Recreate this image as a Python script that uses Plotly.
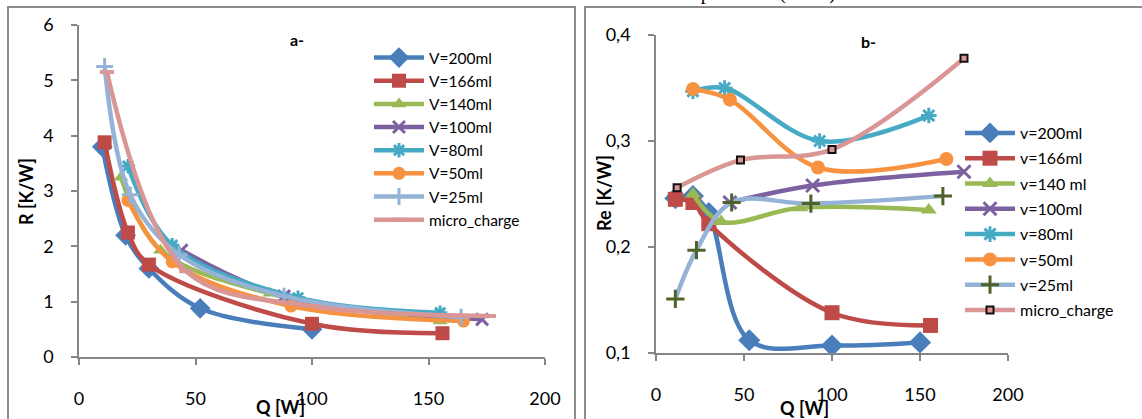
import plotly.graph_objects as go

W, H = 1142, 419

# ---------------- data: panel a (R vs Q) ----------------
series_names_a = ["V=200ml", "V=166ml", "V=140ml", "V=100ml", "V=80ml", "V=50ml", "V=25ml", "micro_charge"]
Q_a_200 = [10, 20, 30, 52, 100]
R_a_200 = [3.8, 2.2, 1.6, 0.88, 0.5]
Q_a_166 = [11, 21, 30, 100, 156]
R_a_166 = [3.88, 2.25, 1.67, 0.6, 0.43]
Q_a_140 = [18, 35, 82, 155]
R_a_140 = [3.25, 1.93, 1.15, 0.65]
Q_a_100 = [44, 88, 173]
R_a_100 = [1.93, 1.1, 0.68]
Q_a_80 = [21, 40, 94, 155]
R_a_80 = [3.45, 2.02, 1.07, 0.8]
Q_a_50 = [21, 40, 91, 165]
R_a_50 = [2.83, 1.72, 0.92, 0.65]
Q_a_25 = [11, 22, 43, 88, 164]
R_a_25 = [5.25, 2.93, 1.85, 1.1, 0.72]
Q_a_mc = [12, 46, 100, 176]
R_a_mc = [5.15, 1.55, 0.92, 0.74]

# ---------------- data: panel b (Re vs Q) ----------------
series_names_b = ["v=200ml", "v=166ml", "v=140 ml", "v=100ml", "v=80ml", "v=50ml", "v=25ml", "micro_charge"]
Q_b_200 = [11, 21, 30, 53, 100, 150]
Re_b_200 = [0.246, 0.248, 0.232, 0.112, 0.107, 0.110]
Q_b_166 = [11, 21, 30, 100, 156]
Re_b_166 = [0.245, 0.242, 0.222, 0.138, 0.126]
Q_b_140 = [21, 37, 82, 155]
Re_b_140 = [0.25, 0.224, 0.237, 0.235]
Q_b_100 = [42, 89, 175]
Re_b_100 = [0.242, 0.258, 0.271]
Q_b_80 = [21, 39, 93, 155]
Re_b_80 = [0.347, 0.35, 0.3, 0.324]
Q_b_50 = [21, 42, 92, 165]
Re_b_50 = [0.349, 0.339, 0.275, 0.283]
Q_b_25 = [11, 23, 43, 88, 163]
Re_b_25 = [0.151, 0.197, 0.242, 0.241, 0.248]
Q_b_mc = [12, 48, 100, 175]
Re_b_mc = [0.256, 0.282, 0.292, 0.378]

# ---------------- ticks ----------------
x_ticks = [0, 50, 100, 150, 200]
x_ticktext = ["0", "50", "100", "150", "200"]
ya_ticks = [0, 1, 2, 3, 4, 5, 6]
ya_ticktext = ["0", "1", "2", "3", "4", "5", "6"]
yb_ticks = [0.1, 0.2, 0.3, 0.4]
yb_ticktext = ["0,1", "0,2", "0,3", "0,4"]

# ---------------- styles ----------------
C200, C166, C140, C100 = "#4A7EBB", "#BE4B48", "#98B954", "#7D60A0"
C80, C50, C25, CMC = "#46AAC5", "#F69240", "#95B3D7", "#D99694"
DKGREEN = "#4F6228"
FONT = "Lato, Carlito, Open Sans, sans-serif"
AXC = "#868686"


def px_x(p):
    return p / W


def px_y(p):
    return (H - p) / H


fig = go.Figure()

marker_a = [
    dict(symbol="diamond", size=16, color=C200),
    dict(symbol="square", size=14, color=C166),
    dict(symbol="triangle-up", size=13, color=C140),
    dict(symbol="x-thin-open", size=12, color=C100, line=dict(color=C100, width=3)),
    dict(symbol="asterisk-open", size=12, color=C80, line=dict(color=C80, width=3)),
    dict(symbol="circle", size=13, color=C50),
    dict(symbol="cross-thin-open", size=12, color=C25, line=dict(color=C25, width=3)),
    dict(symbol="line-ew-open", size=10, color=CMC, line=dict(color=CMC, width=4)),
]
marker_b = [
    dict(symbol="diamond", size=17, color=C200),
    dict(symbol="square", size=15, color=C166),
    dict(symbol="triangle-up", size=14, color=C140),
    dict(symbol="x-thin-open", size=13, color=C100, line=dict(color=C100, width=3)),
    dict(symbol="asterisk-open", size=13, color=C80, line=dict(color=C80, width=3)),
    dict(symbol="circle", size=14, color=C50),
    dict(symbol="cross-thin-open", size=13, color=DKGREEN, line=dict(color=DKGREEN, width=3)),
    dict(symbol="square", size=7, color=CMC, line=dict(color="#111111", width=2)),
]
line_colors = [C200, C166, C140, C100, C80, C50, C25, CMC]

data_a = [(Q_a_200, R_a_200), (Q_a_166, R_a_166), (Q_a_140, R_a_140), (Q_a_100, R_a_100),
          (Q_a_80, R_a_80), (Q_a_50, R_a_50), (Q_a_25, R_a_25), (Q_a_mc, R_a_mc)]
data_b = [(Q_b_200, Re_b_200), (Q_b_166, Re_b_166), (Q_b_140, Re_b_140), (Q_b_100, Re_b_100),
          (Q_b_80, Re_b_80), (Q_b_50, Re_b_50), (Q_b_25, Re_b_25), (Q_b_mc, Re_b_mc)]

for i, (q, r) in enumerate(data_a):
    fig.add_trace(go.Scatter(
        x=q, y=r, name=series_names_a[i], mode="lines+markers",
        line=dict(color=line_colors[i], width=4.5, shape="spline", smoothing=1.0),
        marker=marker_a[i], xaxis="x", yaxis="y", legend="legend", cliponaxis=False,
    ))

for i, (q, r) in enumerate(data_b):
    fig.add_trace(go.Scatter(
        x=q, y=r, name=series_names_b[i], mode="lines+markers",
        line=dict(color=line_colors[i], width=4.5, shape="spline", smoothing=1.0),
        marker=marker_b[i], xaxis="x2", yaxis="y2", legend="legend2",
        legendgroup="b%d" % i, cliponaxis=False,
    ))

axis_common = dict(
    showline=True, linecolor=AXC, linewidth=1.5, ticks="outside", ticklen=6,
    tickcolor=AXC, tickwidth=1.5, showgrid=False, zeroline=False, automargin=False,
    tickfont=dict(family=FONT, size=18, color="#000000"),
)

fig.update_layout(
    width=W, height=H,
    margin=dict(l=0, r=0, t=0, b=0, pad=0, autoexpand=False),
    paper_bgcolor="white", plot_bgcolor="white",
    font=dict(family=FONT, color="#000000"),
    xaxis=dict(domain=[px_x(79), px_x(545)], range=[0, 200], tickvals=x_ticks,
               ticktext=x_ticktext, anchor="y", ticklabelstandoff=19, **axis_common),
    yaxis=dict(domain=[px_y(357), px_y(25)], range=[0, 6], tickvals=ya_ticks,
               ticktext=ya_ticktext, anchor="x", ticklabelstandoff=14, **axis_common),
    xaxis2=dict(domain=[px_x(656), px_x(1008)], range=[0, 200], tickvals=x_ticks,
                ticktext=x_ticktext, anchor="y2", ticklabelstandoff=19, **axis_common),
    yaxis2=dict(domain=[px_y(353), px_y(35)], range=[0.1, 0.4], tickvals=yb_ticks,
                ticktext=yb_ticktext, anchor="x2", ticklabelstandoff=14, **axis_common),
    legend=dict(x=px_x(369), y=px_y(41), xanchor="left", yanchor="top",
                font=dict(family=FONT, size=15.5, color="#000000"), itemwidth=50,
                bgcolor="rgba(0,0,0,0)", borderwidth=0),
    legend2=dict(x=px_x(960), y=px_y(116), xanchor="left", yanchor="top",
                 font=dict(family=FONT, size=16, color="#000000"), itemwidth=50,
                 tracegroupgap=1.5, bgcolor="rgba(0,0,0,0)", borderwidth=0),
    showlegend=True,
)

# panel frames
fig.add_shape(type="rect", xref="paper", yref="paper", x0=px_x(8), x1=px_x(575),
              y0=-0.2, y1=px_y(7), line=dict(color="#8C8C8C", width=2), layer="below")
fig.add_shape(type="rect", xref="paper", yref="paper", x0=px_x(585), x1=1.2,
              y0=-0.2, y1=px_y(7), line=dict(color="#8C8C8C", width=2), layer="below")

bold = dict(family=FONT, size=18, color="#000000")
annos = [
    dict(text="<b>a-</b>", x=px_x(288), y=px_y(40), xanchor="left", yanchor="middle",
         font=dict(family=FONT, size=16, color="#000")),
    dict(text="<b>b-</b>", x=px_x(859), y=px_y(42), xanchor="left", yanchor="middle",
         font=dict(family=FONT, size=16, color="#000")),
    dict(text="<b>R [K/W]</b>", x=px_x(26), y=px_y(192), textangle=-90,
         xanchor="center", yanchor="middle", font=bold),
    dict(text="<b>Q [W]</b>", x=px_x(280), y=px_y(407), xanchor="center",
         yanchor="middle", font=bold),
    dict(text="<b>Re [K/W]</b>", x=px_x(604), y=px_y(193), textangle=-90,
         xanchor="center", yanchor="middle", font=bold),
    dict(text="<b>Q [W]</b>", x=px_x(804), y=px_y(408), xanchor="center",
         yanchor="middle", font=bold),
    dict(text="correspondante (ECM).", x=px_x(650), y=px_y(-7), xanchor="left",
         yanchor="middle", font=dict(family="Liberation Serif, serif", size=20, color="#000")),
]
for a in annos:
    fig.add_annotation(xref="paper", yref="paper", showarrow=False, **a)

fig.write_html("out.html")
